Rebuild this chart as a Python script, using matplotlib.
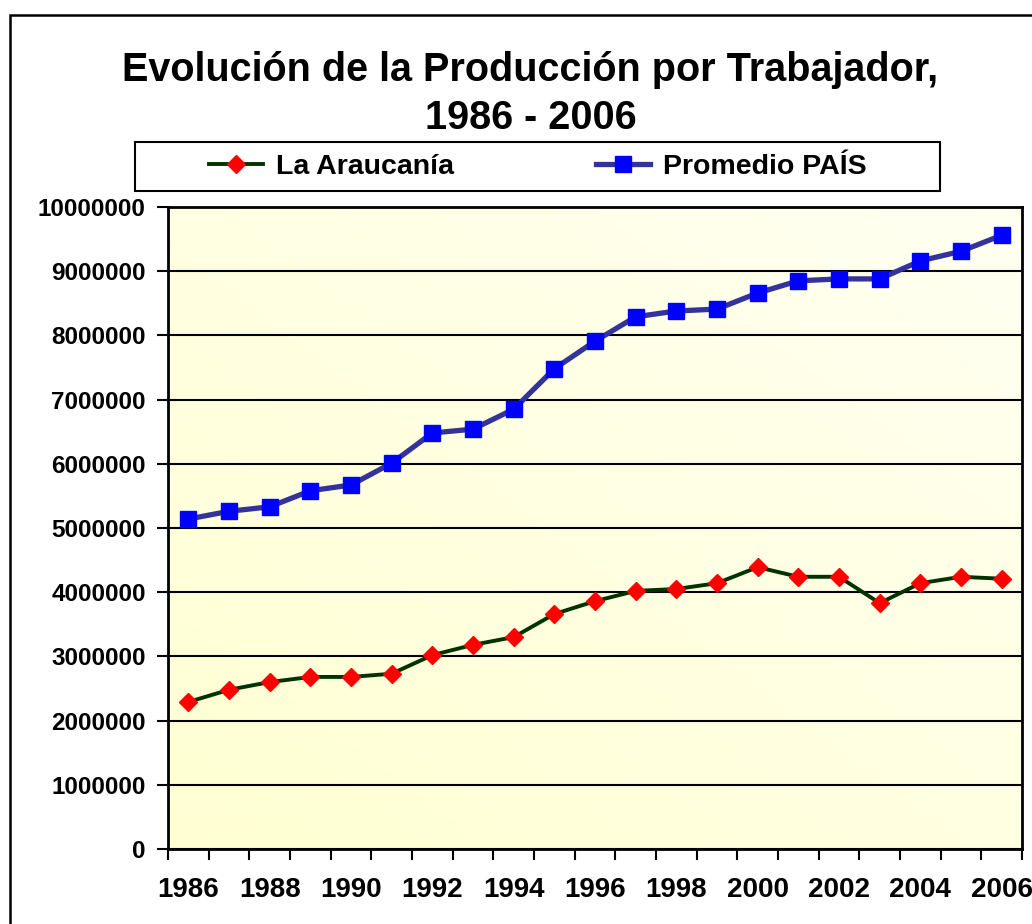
import numpy as np
import matplotlib
matplotlib.use("Agg")
import matplotlib.pyplot as plt
from matplotlib.patches import Rectangle

# datos
years = list(range(1986, 2007))
araucania = [2290000, 2480000, 2600000, 2680000, 2680000, 2730000, 3020000,
             3180000, 3300000, 3660000, 3860000, 4020000, 4050000, 4140000,
             4390000, 4240000, 4240000, 3830000, 4140000, 4240000, 4210000]
promedio = [5140000, 5260000, 5330000, 5580000, 5670000, 6010000, 6480000,
            6540000, 6850000, 7480000, 7910000, 8290000, 8380000, 8410000,
            8660000, 8850000, 8880000, 8880000, 9160000, 9310000, 9560000]
yticks = list(range(0, 10000001, 1000000))

plt.rcParams['font.family'] = ['Liberation Sans', 'DejaVu Sans']
plt.rcParams['font.weight'] = 'bold'

fig = plt.figure(figsize=(10.32, 9.24), dpi=100)
ax = fig.add_axes([168/1032, 1-849/924, (1022-168)/1032, (849-207)/924])

# fondo degradado
g = np.linspace(0, 1, 256)
gx, gy = np.meshgrid(g, g)
t = (gx + (1 - gy)) / 2
c0 = np.array([255, 255, 210]) / 255
c1 = np.array([255, 255, 242]) / 255
img = c0[None, None, :] * (1 - t[..., None]) + c1[None, None, :] * t[..., None]
ax.imshow(img, extent=[0, 1, 0, 1], transform=ax.transAxes, aspect='auto', zorder=0)

x = np.arange(len(years))
l1, = ax.plot(x, araucania, color='#003300', lw=2.8, marker='D', ms=9.5,
              mfc='red', mec='red', label='La Araucanía', zorder=3)
l2, = ax.plot(x, promedio, color='#333399', lw=3.8, marker='s', ms=11.5,
              mfc='blue', mec='blue', label='Promedio PAÍS', zorder=3)

ax.set_xlim(-0.5, len(years) - 0.5)
ax.set_ylim(0, 10000000)
ax.set_yticks(yticks)
ax.set_yticklabels([str(v) for v in yticks], fontsize=17.5, fontweight='bold')
ax.yaxis.grid(True, color='black', lw=1.5, zorder=1)
ax.set_axisbelow(False)
for l in ax.get_ygridlines():
    l.set_zorder(1)
ax.tick_params(axis='y', length=8, width=1.5, pad=8)

ax.set_xticks(np.arange(-0.5, len(years), 1))
ax.set_xticklabels([])
ax.tick_params(axis='x', which='major', length=8, width=1.5)
ax.set_xticks(x[::2], minor=True)
ax.set_xticklabels([str(y) for y in years[::2]], minor=True, fontsize=20, fontweight='bold')
ax.tick_params(axis='x', which='minor', length=0, pad=20)

for s in ax.spines.values():
    s.set_color('black')
    s.set_linewidth(2)

fig.text(0.514, 1-51/924, 'Evolución de la Producción por Trabajador,\n1986 - 2006',
         ha='center', va='top', fontsize=28.5, fontweight='bold', linespacing=1.33)

# caja de la leyenda
lx0, ly0, lx1, ly1 = 135/1032, 1-191/924, 940/1032, 1-142/924
fig.patches.append(Rectangle((lx0, ly0), lx1 - lx0, ly1 - ly0, transform=fig.transFigure,
                             facecolor='white', edgecolor='black', lw=1.5, zorder=1))
fig.legend(handles=[l1, l2], loc='center',
           bbox_to_anchor=(lx0, ly0, lx1 - lx0, ly1 - ly0), bbox_transform=fig.transFigure,
           ncol=2, frameon=False, prop={'weight': 'bold', 'size': 20.5},
           handlelength=1.9, handletextpad=0.45, columnspacing=5.0, borderaxespad=0)

# marco exterior
fig.patches.append(Rectangle((10/1032, -0.1), 1.2, 1.1 - 15/924, transform=fig.transFigure,
                             fill=False, edgecolor='black', lw=1.8))

fig.savefig('out.png', dpi=100)
